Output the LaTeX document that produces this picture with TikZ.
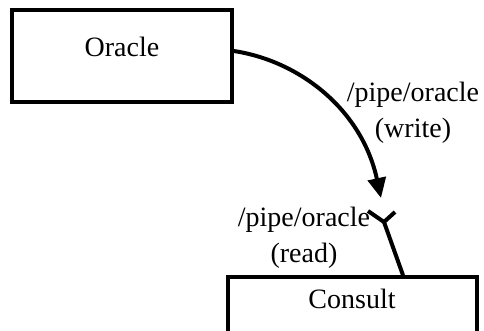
\documentclass[tikz,border=0pt]{standalone}
\usepackage{fontspec}
\setmainfont{Liberation Serif}
\usetikzlibrary{arrows.meta}
\begin{document}
\begin{tikzpicture}[x=1pt,y=-1pt,
  box/.style={draw,line width=3.5pt,inner sep=0pt},
  txt/.style={font=\fontsize{28}{36}\selectfont,inner sep=0pt,align=center},
  conn/.style={line width=4pt}]
\useasboundingbox (0,0) rectangle (484,331);
\begin{scope}
\clip (0,0) rectangle (484,331);
\node[box,minimum width=220pt,minimum height=92pt] (oracle) at (122,56) {};
\node[txt] (oracletxt) at (122,46.5) {Oracle};
\node[box,minimum width=249pt,minimum height=80pt] (consult) at (352.5,317) {};
\node[txt] (consulttxt) at (352,298.5) {Consult};
\node[txt] (wlabel) at (413,112.5) {/pipe/oracle\\(write)};
\node[txt] (rlabel) at (304,238) {/pipe/oracle\\(read)};
\coordinate (wend) at (381,198);
\coordinate (rend) at (384,222);
\draw[conn,-{Triangle[length=20pt,width=18pt]}] ([yshift=5pt]oracle.east) .. controls (300,61) and (362,110) .. (wend);
\draw[conn] (consult.north -| 403,0) -- (rend);
\draw[conn] (rend) -- ++(-16,-11);
\draw[conn] (rend) -- ++(11,-10);
\end{scope}
\end{tikzpicture}
\end{document}
